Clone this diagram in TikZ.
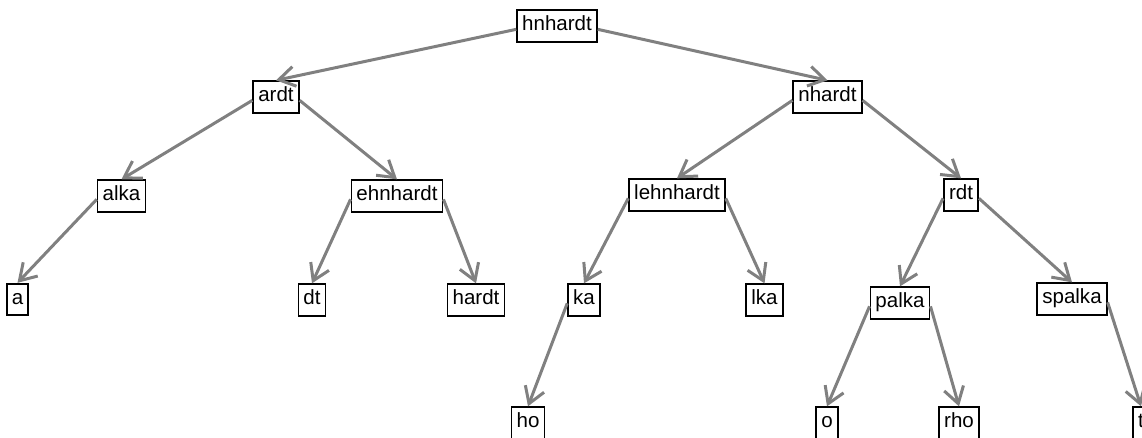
\documentclass[tikz,border=0pt]{standalone}
\usepackage{fontspec}
\setmainfont{Liberation Sans}
\usetikzlibrary{arrows.meta}
\definecolor{edgegray}{RGB}{128,128,128}

\begin{document}
\begin{tikzpicture}[x=0.75pt, y=-0.75pt,
    every node/.style={font=\fontsize{15.4pt}{18pt}\selectfont},
    word/.style={draw=black, line width=1.3pt, fill=white, inner xsep=3.8pt,
      inner ysep=0pt, text height=15.3pt, text depth=8.4pt},
    edge/.style={draw=edgegray, line width=2.25pt,
      -{Straight Barb[length=12pt, width=15pt]}}]
  \useasboundingbox (0,0) rectangle (1142,438);
  % level 0 and 1
  \node[word] (hnhardt) at (557,26) {hnhardt};
  \node[word] (ardt) at (276,97) {ardt};
  \node[word] (nhardt) at (827.5,97) {nhardt};
  % level 2
  \node[word] (alka) at (121.5,196) {alka};
  \node[word] (ehnhardt) at (397,196) {ehnhardt};
  \node[word] (lehnhardt) at (677,195) {lehnhardt};
  \node[word] (rdt) at (961,195) {rdt};
  % level 3
  \node[word] (a) at (17.5,299.5) {a};
  \node[word] (dt) at (312,300) {dt};
  \node[word] (hardt) at (476,300) {hardt};
  \node[word] (ka) at (584,300) {ka};
  \node[word] (lka) at (764.5,300) {lka};
  \node[word] (palka) at (900,303) {palka};
  \node[word] (spalka) at (1072,299) {spalka};
  % level 4
  \node[word] (ho) at (528,423) {ho};
  \node[word] (o) at (827,423) {o};
  \node[word] (rho) at (959,423) {rho};
  \node[word] (t) at (1141,423) {t};
  % edges: parent side -> child top
  \foreach \p/\c/\s in {hnhardt/ardt/west, hnhardt/nhardt/east,
      ardt/alka/west, ardt/ehnhardt/east, nhardt/lehnhardt/west, nhardt/rdt/east,
      alka/a/west, ehnhardt/dt/west, ehnhardt/hardt/east,
      lehnhardt/ka/west, lehnhardt/lka/east, rdt/palka/west, rdt/spalka/east,
      ka/ho/west, palka/o/west, palka/rho/east, spalka/t/east} {
    \draw[edge] ([yshift=-2.5pt]\p.\s) -- (\c.north);
  }
\end{tikzpicture}
\end{document}
